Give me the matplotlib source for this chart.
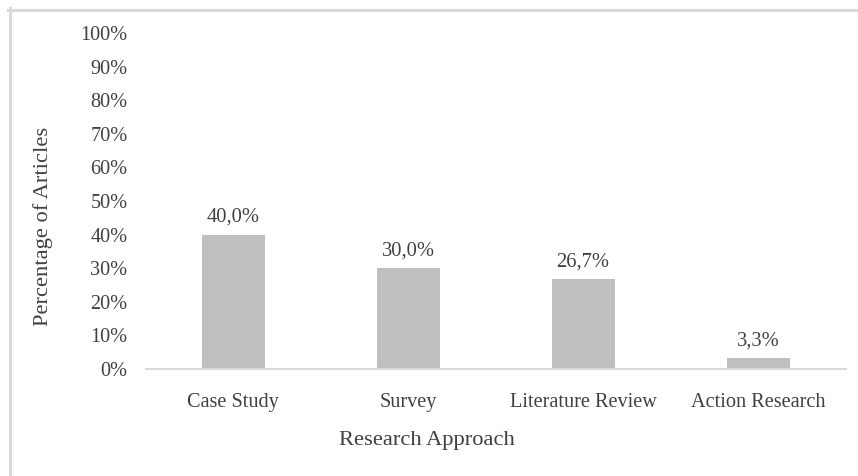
import matplotlib
matplotlib.use("Agg")
import matplotlib.pyplot as plt
from matplotlib.lines import Line2D
from matplotlib.ticker import FuncFormatter

categories = ["Case Study", "Survey", "Literature Review", "Action Research"]
percentages = [40.0, 30.0, 26.7, 3.3]
y_ticks = [0, 10, 20, 30, 40, 50, 60, 70, 80, 90, 100]

TEXT = "#404040"
GRID = "#d9d9d9"
BAR = "#bfbfbf"

plt.rcParams["font.family"] = ["Liberation Serif", "DejaVu Serif"]

def main():
    W, H = 858, 476
    fig = plt.figure(figsize=(W / 100, H / 100), dpi=100)
    ax = fig.add_axes([145.5 / W, 1 - 369 / H, 700 / W, 336 / H])

    x = range(len(categories))
    ax.bar(x, percentages, width=0.36, color=BAR, zorder=2)

    for xi, v in zip(x, percentages):
        ax.annotate(f"{v:.1f}%".replace(".", ","), (xi, v), xytext=(0, 5.5),
                    textcoords="offset points", ha="center", va="bottom",
                    fontsize=14.8, color=TEXT)

    ax.set_xlim(-0.5, len(categories) - 0.5)
    ax.set_ylim(0, 100)
    ax.set_yticks(y_ticks)
    ax.yaxis.set_major_formatter(FuncFormatter(lambda v, _: f"{v:.0f}%"))
    ax.set_xticks(list(x))
    ax.set_xticklabels(categories)

    for s in ["top", "right", "left"]:
        ax.spines[s].set_visible(False)
    ax.spines["bottom"].set_color(GRID)
    ax.spines["bottom"].set_linewidth(1.5)
    ax.tick_params(axis="y", length=0, pad=13, labelsize=14.6, labelcolor=TEXT)
    ax.tick_params(axis="x", length=0, pad=17, labelsize=14.6, labelcolor=TEXT)

    fig.text(43 / W, 1 - 226 / H, "Percentage of Articles", rotation=90,
             ha="center", va="center", fontsize=16.2, color=TEXT)
    fig.text(427 / W, 1 - 440 / H, "Research Approach",
             ha="center", va="center", fontsize=16.2, color=TEXT)

    # light chart-area border (top and left only visible)
    fig.add_artist(Line2D([8 / W, 1], [1 - 9.5 / H, 1 - 9.5 / H], color=GRID, lw=2.2))
    fig.add_artist(Line2D([9.5 / W, 9.5 / W], [1 - 8 / H, 0], color=GRID, lw=2.2))

    fig.savefig("out.png", dpi=100)

if __name__ == "__main__":
    main()
